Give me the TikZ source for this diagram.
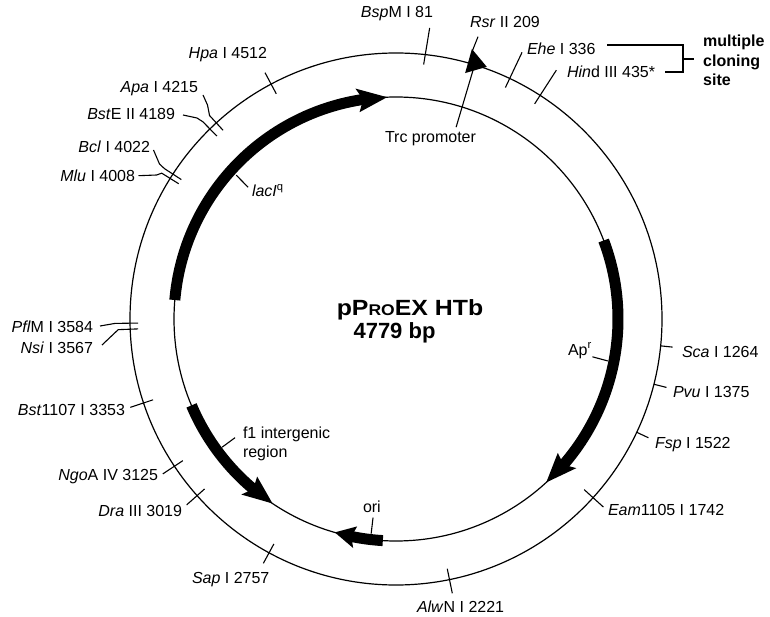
\documentclass[tikz,border=0pt]{standalone}
\usepackage{fontspec}
\setmainfont{Liberation Sans}
\begin{document}
\begin{tikzpicture}[x=1pt,y=-1pt,
  lbl/.style={font=\fontsize{16}{19}\selectfont, inner sep=0pt, outer sep=0pt},
  mcs/.style={font=\bfseries\fontsize{16}{19}\selectfont, inner sep=0pt, anchor=base west},
  ttl/.style={font=\bfseries\fontsize{22}{26}\selectfont, inner sep=0pt, anchor=base},
  ring/.style={line width=1.2pt},
  tk/.style={line width=1.1pt},
  genebody/.style={line width=11pt},
  genehead/.style={fill=black, draw=none}]
\useasboundingbox (0,0) rectangle (770,617);
\fill[white] (0,0) rectangle (770,617);
\coordinate (C) at (396,319);
\draw[ring] (C) circle[radius=266];
\draw[ring] (C) circle[radius=222];
\begin{scope}[shift={(C)}]
  % genes
  \draw[genebody] (184.9:222) arc[start angle=184.9, end angle=262, radius=222];
  \fill[genehead] (260:234) -- (267.7:222) -- (260:210) -- (261.5:222) -- cycle;
  \draw[genebody] (-20.7:222) arc[start angle=-20.7, end angle=41.5, radius=222];
  \fill[genehead] (39.6:234) -- (47.4:222) -- (39.6:210) -- (41:222) -- cycle;
  \draw[genebody] (157.1:222) arc[start angle=157.1, end angle=129.5, radius=222];
  \fill[genehead] (131.4:234) -- (123.8:222) -- (131.4:210) -- (130:222) -- cycle;
  \draw[genebody] (93.4:222) arc[start angle=93.4, end angle=102, radius=222];
  \fill[genehead] (100.6:233) -- (106:222) -- (100.6:211) -- (101.6:222) -- cycle;
  % Trc promoter triangle
  \fill[genehead] (-74.3:280.5) -- (-70.2:268) -- (-74.3:255.5) -- cycle;
  % tick coordinates
  \coordinate (bspA) at (-83.8:256); \coordinate (bspB) at (-83.4:293);
  \coordinate (rsrA) at (-74.1:279); \coordinate (rsrB) at (-73.8:294);
  \coordinate (trcA) at (-72.6:201); \coordinate (trcB) at (-72.8:262);
  \coordinate (eheA) at (-64.7:256); \coordinate (eheB) at (-64.7:295);
  \coordinate (hindA) at (-57.2:256); \coordinate (hindB) at (-57.2:296);
  \coordinate (scaA) at (5.8:266); \coordinate (scaB) at (5.8:278);
  \coordinate (pvuA) at (14.2:266); \coordinate (pvuB) at (14.2:279);
  \coordinate (fspA) at (25.2:266); \coordinate (fspB) at (25.2:279);
  \coordinate (eamA) at (42.2:254); \coordinate (eamB) at (42.2:280);
  \coordinate (alwA) at (78.4:255); \coordinate (alwB) at (78.4:280);
  \coordinate (sapA) at (118.5:256); \coordinate (sapB) at (118.5:278);
  \coordinate (draA) at (138.4:256); \coordinate (draB) at (138.4:280);
  \coordinate (ngoA) at (146.4:256); \coordinate (ngoB) at (146.4:280);
  \coordinate (bstA) at (161.6:256); \coordinate (bstB) at (161.6:280);
  \coordinate (nsiA) at (177.8:258); \coordinate (nsiB) at (177.8:278);
  \coordinate (pflA) at (179.1:258); \coordinate (pflB) at (179.1:281);
  \coordinate (mluA) at (211.9:256); \coordinate (mluB) at (211.9:276);
  \coordinate (bclA) at (213:256); \coordinate (bclB) at (213:276);
  \coordinate (psteA) at (225.6:256); \coordinate (psteB) at (225.6:276);
  \coordinate (apaA) at (227.5:256); \coordinate (apaB) at (227.5:276);
  \coordinate (hpaA) at (242:255); \coordinate (hpaB) at (242:279);
  \coordinate (lacA) at (222:215); \coordinate (lacB) at (221.7:198);
  \coordinate (apA) at (11.2:216); \coordinate (apB) at (10.9:200);
  \coordinate (f1A) at (143.6:216); \coordinate (f1B) at (143.6:200);
  \coordinate (oriA) at (96.6:216); \coordinate (oriB) at (96.6:200);
\end{scope}
% leader bend points near labels
\coordinate (nsiC) at (118,331); \coordinate (nsiD) at (102,345);
\coordinate (pflC) at (100,326);
\coordinate (mluC) at (156.7,175); \coordinate (mluD) at (138.5,175.7);
\coordinate (bclC) at (159.5,164); \coordinate (bclD) at (153.5,150);
\coordinate (psteC) at (197,118); \coordinate (psteD) at (183,115);
\coordinate (apaC) at (207.5,105); \coordinate (apaD) at (203,95);
\coordinate (br1) at (607,45); \coordinate (br2) at (683,45);
\coordinate (br3) at (683,72); \coordinate (br4) at (665,72);
\coordinate (brm) at (683,59); \coordinate (brt) at (694,59);
% ticks and leaders
\draw[tk] (bspA) -- (bspB);
\draw[tk] (rsrA) -- (rsrB);
\draw[tk] (trcA) -- (trcB);
\draw[tk] (eheA) -- (eheB);
\draw[tk] (hindA) -- (hindB);
\draw[tk] (scaA) -- (scaB);
\draw[tk] (pvuA) -- (pvuB);
\draw[tk] (fspA) -- (fspB);
\draw[tk] (eamA) -- (eamB);
\draw[tk] (alwA) -- (alwB);
\draw[tk] (sapA) -- (sapB);
\draw[tk] (draA) -- (draB);
\draw[tk] (ngoA) -- (ngoB);
\draw[tk] (bstA) -- (bstB);
\draw[tk] (nsiA) -- (nsiB) -- (nsiD);
\draw[tk] (pflA) -- (pflB) -- (pflC);
\draw[tk] (mluA) -- (mluB) -- (mluC) -- (mluD);
\draw[tk] (bclA) -- (bclB) -- (bclC) -- (bclD);
\draw[tk] (psteA) -- (psteB) -- (psteC) -- (psteD);
\draw[tk] (apaA) -- (apaB) -- (apaC) -- (apaD);
\draw[tk] (hpaA) -- (hpaB);
\draw[tk] (lacA) -- (lacB);
\draw[tk] (apA) -- (apB);
\draw[tk] (f1A) -- (f1B);
\draw[tk] (oriA) -- (oriB);
\draw[tk] (br1) -- (br2) -- (br3) -- (br4);
\draw[tk] (brm) -- (brt);
% labels
\node[lbl, anchor=base east] (bspL) at (433,18) {\textit{Bsp}M I 81};
\node[lbl, anchor=base west] (rsrL) at (470,27.5) {\textit{Rsr} II 209};
\node[lbl, anchor=base west] (trcL) at (385,143) {Trc promoter};
\node[lbl, anchor=base west] (eheL) at (527,55) {\textit{Ehe} I 336};
\node[lbl, anchor=base west] (hindL) at (567,78) {\textit{Hin}d III 435*};
\node[mcs] (mcs1) at (703,47) {multiple};
\node[mcs] (mcs2) at (703,66.5) {cloning};
\node[mcs] (mcs3) at (703,86) {site};
\node[lbl, anchor=base west] (scaL) at (682,357) {\textit{Sca} I 1264};
\node[lbl, anchor=base west] (pvuL) at (673,397) {\textit{Pvu} I 1375};
\node[lbl, anchor=base west] (fspL) at (655,448) {\textit{Fsp} I 1522};
\node[lbl, anchor=base west] (eamL) at (608,515) {\textit{Eam}1105 I 1742};
\node[lbl, anchor=base west] (alwL) at (417,612) {\textit{Alw}N I 2221};
\node[lbl, anchor=base west] (sapL) at (192,583) {\textit{Sap} I 2757};
\node[lbl, anchor=base east] (draL) at (182,516) {\textit{Dra} III 3019};
\node[lbl, anchor=base east] (ngoL) at (158,480) {\textit{Ngo}A IV 3125};
\node[lbl, anchor=base east] (bstL) at (125,415) {\textit{Bst}1107 I 3353};
\node[lbl, anchor=base east] (nsiL) at (93,353) {\textit{Nsi} I 3567};
\node[lbl, anchor=base east] (pflL) at (93,332) {\textit{Pfl}M I 3584};
\node[lbl, anchor=base east] (mluL) at (135,182) {\textit{Mlu} I 4008};
\node[lbl, anchor=base east] (bclL) at (150,153) {\textit{Bcl} I 4022};
\node[lbl, anchor=base east] (psteL) at (175,120) {\textit{Bst}E II 4189};
\node[lbl, anchor=base east] (apaL) at (198,93) {\textit{Apa} I 4215};
\node[lbl, anchor=base east] (hpaL) at (267,59) {\textit{Hpa} I 4512};
\node[lbl, anchor=base west] (lacL) at (252,197) {\textit{lacI}\textsuperscript{q}};
\node[lbl, anchor=base west] (apL) at (568,355) {Ap\textsuperscript{r}};
\node[lbl, anchor=base west] (f1L) at (243,438) {f1 intergenic};
\node[lbl, anchor=base west] (f1L2) at (243,457) {region};
\node[lbl, anchor=base west] (oriL) at (363,512) {ori};
\node[ttl] (ttl1) at (410,315) {\scalebox{1.13}[1]{pP{\fontsize{15.5}{18}\selectfont RO}EX HTb}};
\node[ttl] (ttl2) at (394.5,338) {4779 bp};
\end{tikzpicture}
\end{document}
